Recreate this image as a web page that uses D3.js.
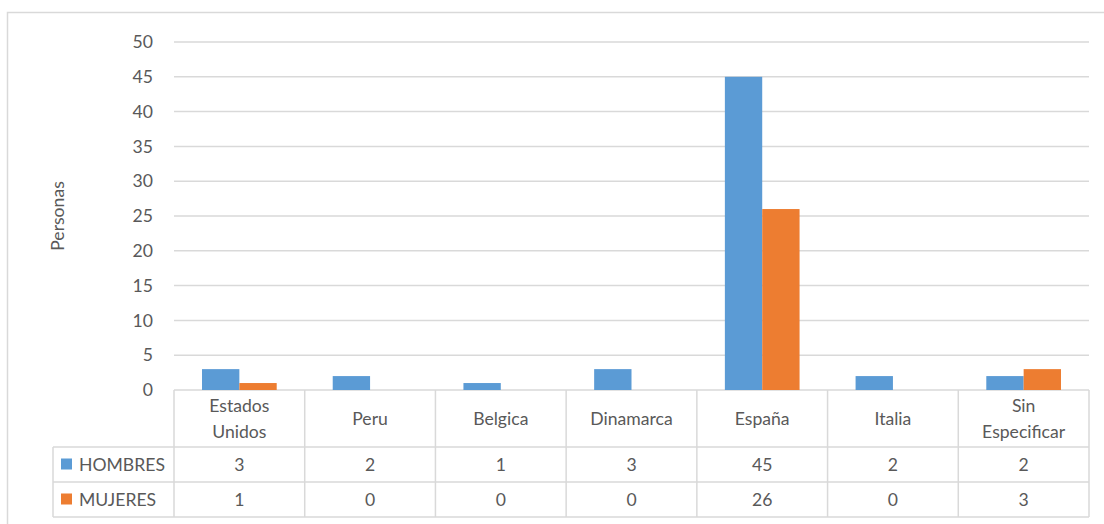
<!DOCTYPE html>
<html>
<head>
<meta charset="utf-8">
<script src="https://cdn.jsdelivr.net/npm/d3@7"></script>
<style>
  body { margin: 0; background: #fff; }
  svg { display: block; font-family: Lato, "Open Sans", sans-serif; }
</style>
</head>
<body>
<svg id="chart" width="1104" height="524"></svg>
<script>
// data
const categories = [['Estados', 'Unidos'], ['Peru'], ['Belgica'], ['Dinamarca'], ['España'], ['Italia'], ['Sin', 'Especificar']];
const seriesNames = ['HOMBRES', 'MUJERES'];
const hombres = [3, 2, 1, 3, 45, 2, 2];
const mujeres = [1, 0, 0, 0, 26, 0, 3];
const yTicks = [0, 5, 10, 15, 20, 25, 30, 35, 40, 45, 50];
const colors = ['#5b9bd5', '#ed7d31'];

const series = [hombres, mujeres];
const textColor = '#595959';
const lineColor = '#d9d9d9';
const fontSize = 17.6;

const svg = d3.select('#chart');
const plotLeft = 174, plotRight = 1089, plotTop = 42, plotBottom = 390;
const legendLeft = 53;
const rowY = [390, 447, 482, 517];

// outer chart border
svg.append('rect')
    .attr('x', 7.5).attr('y', 12.5)
    .attr('width', 1110).attr('height', 530)
    .attr('fill', 'none')
    .attr('stroke', lineColor)
    .attr('stroke-width', 1.5);

const x = d3.scaleBand()
    .domain(d3.range(categories.length))
    .range([plotLeft, plotRight])
    .padding(0);

const y = d3.scaleLinear()
    .domain([0, 50])
    .range([plotBottom, plotTop]);

// gridlines
svg.append('g')
    .selectAll('line')
    .data(yTicks)
    .join('line')
    .attr('x1', plotLeft).attr('x2', plotRight)
    .attr('y1', d => y(d)).attr('y2', d => y(d))
    .attr('stroke', lineColor)
    .attr('stroke-width', 1.5);

// y axis labels
svg.append('g')
    .selectAll('text')
    .data(yTicks)
    .join('text')
    .attr('x', 153)
    .attr('y', d => y(d))
    .attr('dy', '0.35em')
    .attr('text-anchor', 'end')
    .attr('font-size', fontSize)
    .attr('fill', textColor)
    .text(d => d);

svg.append('text')
    .attr('transform', `translate(64,${(plotTop + plotBottom) / 2}) rotate(-90)`)
    .attr('text-anchor', 'middle')
    .attr('font-size', fontSize)
    .attr('fill', textColor)
    .text('Personas');

// bars
const bw = x.bandwidth() / 3.5;
const inner = d3.scaleBand()
    .domain(d3.range(series.length))
    .range([0, bw * 2]);

series.forEach((vals, si) => {
    svg.append('g')
        .selectAll('rect')
        .data(vals)
        .join('rect')
        .attr('x', (d, i) => x(i) + (x.bandwidth() - bw * 2) / 2 + inner(si))
        .attr('y', d => y(d))
        .attr('width', inner.bandwidth())
        .attr('height', d => y(0) - y(d))
        .attr('fill', colors[si]);
});

// data table
const table = svg.append('g')
    .attr('stroke', lineColor)
    .attr('stroke-width', 1.5);

table.selectAll('line.v')
    .data(d3.range(categories.length + 1))
    .join('line')
    .attr('class', 'v')
    .attr('x1', i => i < categories.length ? x(i) : plotRight)
    .attr('x2', i => i < categories.length ? x(i) : plotRight)
    .attr('y1', rowY[0]).attr('y2', rowY[3]);

table.selectAll('line.h')
    .data(rowY.slice(1))
    .join('line')
    .attr('class', 'h')
    .attr('x1', legendLeft).attr('x2', plotRight)
    .attr('y1', d => d).attr('y2', d => d);

table.append('line')
    .attr('x1', legendLeft).attr('x2', legendLeft)
    .attr('y1', rowY[1]).attr('y2', rowY[3]);

// category labels
const catG = svg.append('g')
    .selectAll('text')
    .data(categories)
    .join('text')
    .attr('text-anchor', 'middle')
    .attr('font-size', fontSize)
    .attr('fill', textColor);

catG.each(function (lines, i) {
    const cy = (rowY[0] + rowY[1]) / 2;
    const lh = 26;
    d3.select(this).selectAll('tspan')
        .data(lines)
        .join('tspan')
        .attr('x', x(i) + x.bandwidth() / 2)
        .attr('y', (d, j) => cy + (j - (lines.length - 1) / 2) * lh)
        .attr('dy', '0.35em')
        .text(d => d);
});

// series rows: legend key + values
series.forEach((vals, si) => {
    const cy = (rowY[si + 1] + rowY[si + 2]) / 2;
    svg.append('rect')
        .attr('x', 61).attr('y', cy - 6)
        .attr('width', 11).attr('height', 11)
        .attr('fill', colors[si]);
    svg.append('text')
        .attr('x', 79).attr('y', cy)
        .attr('dy', '0.35em')
        .attr('font-size', fontSize)
        .attr('fill', textColor)
        .text(seriesNames[si]);
    svg.append('g')
        .selectAll('text')
        .data(vals)
        .join('text')
        .attr('x', (d, i) => x(i) + x.bandwidth() / 2)
        .attr('y', cy)
        .attr('dy', '0.35em')
        .attr('text-anchor', 'middle')
        .attr('font-size', fontSize)
        .attr('fill', textColor)
        .text(d => d);
});
</script>
</body>
</html>
